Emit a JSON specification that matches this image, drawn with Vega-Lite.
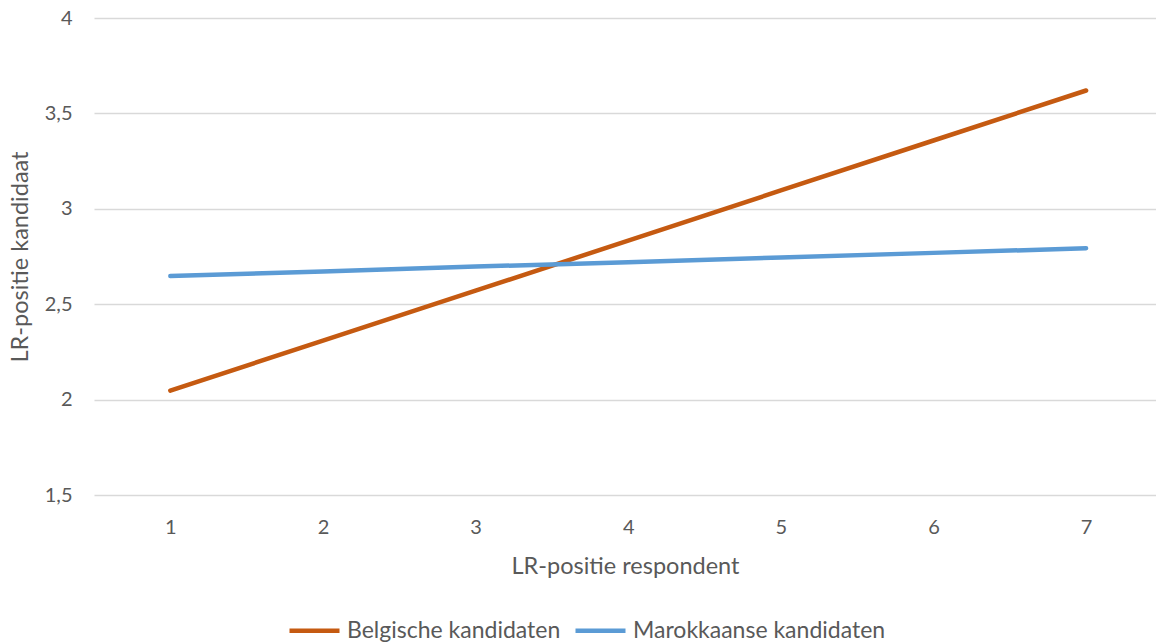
{
  "$schema": "https://vega.github.io/schema/vega-lite/v6.json",
  "width": 1062,
  "height": 477,
  "autosize": {"type": "none"},
  "padding": {"left": 94, "top": 18, "right": 0, "bottom": 148},
  "background": "white",
  "config": {
    "font": "Lato",
    "view": {"stroke": null},
    "axis": {"labelColor": "#595959", "titleColor": "#595959", "labelFont": "Lato", "titleFont": "Lato", "titleFontWeight": "normal"}
  },
  "data": {
    "values": [
      {"x": 1, "y": 2.047, "s": "Belgische kandidaten"},
      {"x": 2, "y": 2.309, "s": "Belgische kandidaten"},
      {"x": 3, "y": 2.571, "s": "Belgische kandidaten"},
      {"x": 4, "y": 2.833, "s": "Belgische kandidaten"},
      {"x": 5, "y": 3.096, "s": "Belgische kandidaten"},
      {"x": 6, "y": 3.358, "s": "Belgische kandidaten"},
      {"x": 7, "y": 3.62, "s": "Belgische kandidaten"},
      {"x": 1, "y": 2.648, "s": "Marokkaanse kandidaten"},
      {"x": 2, "y": 2.672, "s": "Marokkaanse kandidaten"},
      {"x": 3, "y": 2.697, "s": "Marokkaanse kandidaten"},
      {"x": 4, "y": 2.72, "s": "Marokkaanse kandidaten"},
      {"x": 5, "y": 2.745, "s": "Marokkaanse kandidaten"},
      {"x": 6, "y": 2.769, "s": "Marokkaanse kandidaten"},
      {"x": 7, "y": 2.793, "s": "Marokkaanse kandidaten"}
    ]
  },
  "mark": {"type": "line", "strokeWidth": 4.5, "strokeCap": "round", "clip": true},
  "encoding": {
    "x": {
      "field": "x", "type": "quantitative",
      "scale": {"domain": [0.5, 7.458], "nice": false, "zero": false},
      "axis": {"values": [1, 2, 3, 4, 5, 6, 7], "format": "d", "grid": false, "ticks": false, "domain": false,
               "labelFontSize": 20, "labelPadding": 22, "title": "LR-positie respondent", "titleFontSize": 23.5, "titlePadding": 17}
    },
    "y": {
      "field": "y", "type": "quantitative",
      "scale": {"domain": [1.5, 4], "nice": false, "zero": false},
      "axis": {"values": [1.5, 2, 2.5, 3, 3.5, 4], "labelExpr": "replace(format(datum.value, '~g'), '.', ',')",
               "grid": true, "gridColor": "#d9d9d9", "gridWidth": 1.3, "ticks": false, "domain": false,
               "labelFontSize": 20, "labelPadding": 22, "title": "LR-positie kandidaat", "titleFontSize": 23.5, "titlePadding": 12}
    },
    "color": {
      "field": "s", "type": "nominal",
      "scale": {"domain": ["Belgische kandidaten", "Marokkaanse kandidaten"], "range": ["#C55A11", "#5B9BD5"]},
      "legend": {
        "title": null, "orient": "none", "direction": "horizontal", "legendX": 193, "legendY": 585,
        "symbolType": "stroke", "symbolSize": 2500, "symbolStrokeWidth": 4.5,
        "labelFontSize": 23, "labelColor": "#595959", "labelFont": "Lato", "labelOffset": 5, "columnPadding": 5, "labelLimit": 400
      }
    }
  }
}
